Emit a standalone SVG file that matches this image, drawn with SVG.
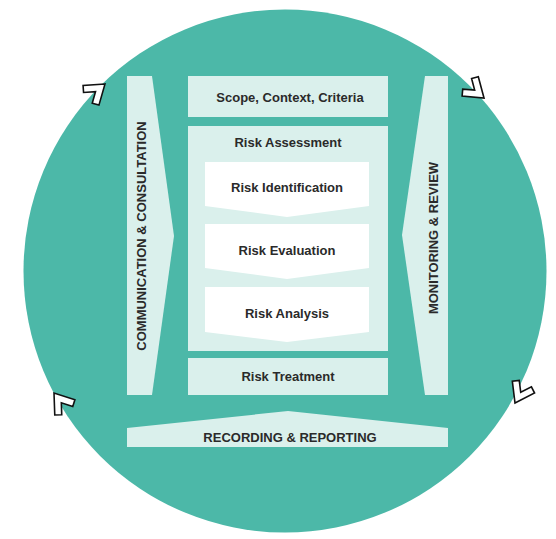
<svg xmlns="http://www.w3.org/2000/svg" width="556" height="539" viewBox="0 0 556 539">
<style>
.lt{fill:#daf0ec}
.wh{fill:#ffffff}
.t{font-family:"Liberation Sans",Arial,sans-serif;font-weight:bold;font-size:13px;fill:#2a2a2a;text-anchor:middle}
.v{font-size:13px}
.chev{fill:#ffffff;stroke:#111111;stroke-width:1.6;stroke-linejoin:miter}
</style>
<defs>
<polygon id="chv" points="0,0 -18,-12.6 -22,-6.9 -12.2,0 -22,6.9 -18,12.6"/>
</defs>
<rect width="556" height="539" fill="#ffffff"/>
<circle id="ring" cx="285" cy="271" r="261.5" fill="#4cb8a8"/>
<g id="communication">
<polygon class="lt" points="127,76 152,76 174,236 152,395 127,395"/>
<text class="t v" transform="translate(145.5,236) rotate(-90)">COMMUNICATION &amp; CONSULTATION</text>
</g>
<g id="monitoring">
<polygon class="lt" points="425,76 448,76 448,395 425,395 402,235"/>
<text class="t v" transform="translate(437.5,238) rotate(-90)">MONITORING &amp; REVIEW</text>
</g>
<g id="scope">
<rect class="lt" x="188" y="76" width="200" height="41"/>
<text class="t" x="290" y="101.5">Scope, Context, Criteria</text>
</g>
<g id="assessment">
<rect class="lt" x="188" y="126" width="200" height="225"/>
<text class="t" x="288" y="147">Risk Assessment</text>
</g>
<g id="identification">
<polygon class="wh" points="205,162 369,162 369,206 287,217 205,206"/>
<text class="t" x="287" y="192">Risk Identification</text>
</g>
<g id="evaluation">
<polygon class="wh" points="205,224 369,224 369,268 287,279 205,268"/>
<text class="t" x="287" y="254.5">Risk Evaluation</text>
</g>
<g id="analysis">
<polygon class="wh" points="205,287 369,287 369,332 287,342 205,332"/>
<text class="t" x="287" y="317.5">Risk Analysis</text>
</g>
<g id="treatment">
<rect class="lt" x="188" y="358" width="200" height="37"/>
<text class="t" x="288" y="380.5">Risk Treatment</text>
</g>
<g id="recording">
<polygon class="lt" points="127,428 288,411 448,428 448,447 127,447"/>
<text class="t" x="290" y="441.5">RECORDING &amp; REPORTING</text>
</g>
<g id="connectors">
<use href="#chv" class="chev" transform="translate(105,84) rotate(-39)"/>
<use href="#chv" class="chev" transform="translate(484,98) rotate(40)"/>
<use href="#chv" class="chev" transform="translate(515,403) rotate(118)"/>
<use href="#chv" class="chev" transform="translate(54,393) rotate(-127)"/>
</g>
</svg>
